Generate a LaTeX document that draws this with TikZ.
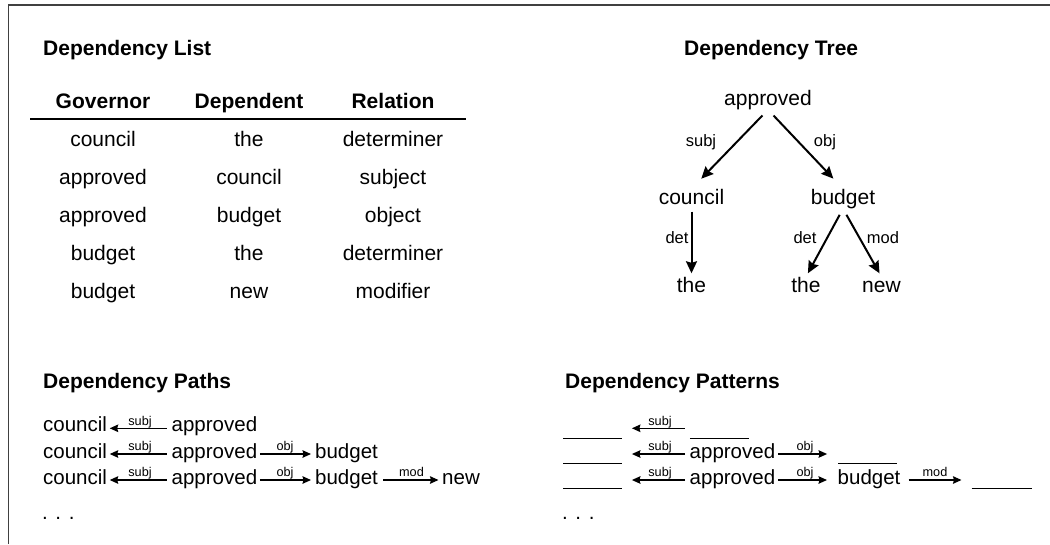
\documentclass[tikz,border=0pt]{standalone}
\usepackage{fontspec}
\setmainfont{Liberation Sans}
\usetikzlibrary{arrows.meta}
\tikzset{
  frame/.style={line width=1.5pt, draw=black!75},
  ttl/.style={font=\fontsize{21}{25}\selectfont\bfseries, inner sep=0pt, anchor=base west},
  hdr/.style={font=\fontsize{21}{25}\selectfont\bfseries, inner sep=0pt, anchor=base},
  cell/.style={font=\fontsize{21}{25}\selectfont, inner sep=0pt, anchor=base},
  tword/.style={font=\fontsize{21}{25}\selectfont, inner sep=0pt, anchor=base, text height=15pt, text depth=4.5pt},
  tlabel/.style={font=\fontsize{16.5}{20}\selectfont, inner sep=0pt},
  tarrow/.style={line width=2pt, -{Stealth[length=12pt,width=11pt,inset=1.5pt]}},
  pword/.style={font=\fontsize{20.5}{24}\selectfont, inner sep=0pt, anchor=base west},
  plabel/.style={font=\fontsize{12.7}{15}\selectfont, inner sep=0pt, anchor=base},
  parrow/.style={line width=1.4pt, -{Stealth[length=8.5pt,width=7.5pt,inset=1pt]}},
  blank/.style={inner sep=0pt, minimum height=0pt},
  blankline/.style={line width=1.3pt},
  rule/.style={line width=1.3pt}
}
\begin{document}
\begin{tikzpicture}[x=1pt,y=-1pt]
\useasboundingbox (0,0) rectangle (1050,544);
\fill[white] (0,0) rectangle (1050,544);
\draw[frame] (8.3,544) -- (8.3,5) -- (1050,5);

% titles
\node[ttl] (tlist) at (43,55) {Dependency List};
\node[ttl] (ttree) at (684,55) {Dependency Tree};
\node[ttl] (tpaths) at (43,388) {Dependency Paths};
\node[ttl] (tpatt) at (565,388) {Dependency Patterns};

% table
\node[hdr] (hgov) at (103,108.3) {Governor};
\node[hdr] (hdep) at (249,108.3) {Dependent};
\node[hdr] (hrel) at (393,108.3) {Relation};
\coordinate (rl) at (30,119);
\coordinate (rr) at (466,119);
\draw[rule] (rl) -- (rr);
\node[cell] (g1) at (103,146.5) {council};
\node[cell] (d1) at (249,146.5) {the};
\node[cell] (r1) at (393,146.5) {determiner};
\node[cell] (g2) at (103,184.5) {approved};
\node[cell] (d2) at (249,184.5) {council};
\node[cell] (r2) at (393,184.5) {subject};
\node[cell] (g3) at (103,222.5) {approved};
\node[cell] (d3) at (249,222.5) {budget};
\node[cell] (r3) at (393,222.5) {object};
\node[cell] (g4) at (103,260.5) {budget};
\node[cell] (d4) at (249,260.5) {the};
\node[cell] (r4) at (393,260.5) {determiner};
\node[cell] (g5) at (103,298.5) {budget};
\node[cell] (d5) at (249,298.5) {new};
\node[cell] (r5) at (393,298.5) {modifier};

% tree
\node[tword] (tappr) at (768,105) {approved};
\node[tword] (tcoun) at (691.5,204) {council};
\node[tword] (tbudg) at (843,204) {budget};
\node[tword] (tthe1) at (691.5,292) {the};
\node[tword] (tthe2) at (806,292) {the};
\node[tword] (tnew) at (881.5,292) {new};
\draw[tarrow, shorten <=8pt, shorten >=14pt] (tappr.south) -- (tcoun.north);
\draw[tarrow, shorten <=8pt, shorten >=14pt] (tappr.south) -- (tbudg.north);
\draw[tarrow, shorten <=3pt, shorten >=3.5pt] (tcoun.south) -- (tthe1.north);
\draw[tarrow, shorten <=7pt, shorten >=4pt] (tbudg.south) -- (tthe2.north);
\draw[tarrow, shorten <=7pt, shorten >=4pt] (tbudg.south) -- (tnew.north);
\node[tlabel] (lsubj) at (701,142) {subj};
\node[tlabel] (lobj) at (825,142) {obj};
\node[tlabel] (ldet1) at (677,238) {det};
\node[tlabel] (ldet2) at (805,238) {det};
\node[tlabel] (lmod) at (883,238) {mod};

% row reference lines (arrow heights)
\coordinate (ya) at (0,428.3);
\coordinate (yb) at (0,454);
\coordinate (yc) at (0,480);

% dependency paths
\node[pword] (pc1) at (43,431.7) {council};
\node[pword] (pa1) at (171.5,431.7) {approved};
\draw[parrow, shorten <=5pt, shorten >=2.5pt] (pa1.west |- ya) -- (pc1.east |- ya);
\node[plabel] (ps1) at (140,425) {subj};

\node[pword] (pc2) at (43,458) {council};
\node[pword] (pa2) at (171.5,458) {approved};
\node[pword] (pb2) at (315,458) {budget};
\draw[parrow, shorten <=5pt, shorten >=2.5pt] (pa2.west |- yb) -- (pc2.east |- yb);
\draw[parrow, shorten <=2.5pt, shorten >=4pt] (pa2.east |- yb) -- (pb2.west |- yb);
\node[plabel] (ps2) at (140,450.7) {subj};
\node[plabel] (po2) at (285,450.7) {obj};

\node[pword] (pc3) at (43,484.3) {council};
\node[pword] (pa3) at (171.5,484.3) {approved};
\node[pword] (pb3) at (315,484.3) {budget};
\node[pword] (pn3) at (442,484.3) {new};
\draw[parrow, shorten <=5pt, shorten >=2.5pt] (pa3.west |- yc) -- (pc3.east |- yc);
\draw[parrow, shorten <=2.5pt, shorten >=4pt] (pa3.east |- yc) -- (pb3.west |- yc);
\draw[parrow, shorten <=5pt, shorten >=3.5pt] (pb3.east |- yc) -- (pn3.west |- yc);
\node[plabel] (ps3) at (140,476.7) {subj};
\node[plabel] (po3) at (285,476.7) {obj};
\node[plabel] (pm3) at (411.5,476.7) {mod};
\node[pword] (pdots) at (42,519.5) {. . .};

% dependency patterns
\node[blank, minimum width=58.4pt] (qb11) at (592.5,438.3) {};
\node[blank, minimum width=58.3pt] (qb12) at (719.2,438.3) {};
\draw[blankline] (qb11.west) -- (qb11.east);
\draw[blankline] (qb12.west) -- (qb12.east);
\draw[parrow, shorten <=5pt, shorten >=10pt] (qb12.west |- ya) -- (qb11.east |- ya);
\node[plabel] (qs1) at (660,425) {subj};

\node[blank, minimum width=58.4pt] (qb21) at (592.5,463.3) {};
\node[pword] (qa2) at (689.5,458) {approved};
\node[blank, minimum width=58.4pt] (qb22) at (867.5,463.3) {};
\draw[blankline] (qb21.west) -- (qb21.east);
\draw[blankline] (qb22.west) -- (qb22.east);
\draw[parrow, shorten <=4.5pt, shorten >=10pt] (qa2.west |- yb) -- (qb21.east |- yb);
\draw[parrow, shorten <=3pt, shorten >=11pt] (qa2.east |- yb) -- (qb22.west |- yb);
\node[plabel] (qs2) at (660,450.7) {subj};
\node[plabel] (qo2) at (805,450.7) {obj};

\node[blank, minimum width=58.4pt] (qb31) at (592.5,488.3) {};
\node[pword] (qa3) at (689.5,484.3) {approved};
\node[pword] (qbu3) at (837.5,484.3) {budget};
\node[blank, minimum width=60pt] (qb32) at (1001.7,488.3) {};
\draw[blankline] (qb31.west) -- (qb31.east);
\draw[blankline] (qb32.west) -- (qb32.east);
\draw[parrow, shorten <=4.5pt, shorten >=10pt] (qa3.west |- yc) -- (qb31.east |- yc);
\draw[parrow, shorten <=3pt, shorten >=10.5pt] (qa3.east |- yc) -- (qbu3.west |- yc);
\draw[parrow, shorten <=8pt, shorten >=10pt] (qbu3.east |- yc) -- (qb32.west |- yc);
\node[plabel] (qs3) at (660,476.7) {subj};
\node[plabel] (qo3) at (805,476.7) {obj};
\node[plabel] (qm3) at (935,476.7) {mod};
\node[pword] (qdots) at (562,519.5) {. . .};
\end{tikzpicture}
\end{document}
